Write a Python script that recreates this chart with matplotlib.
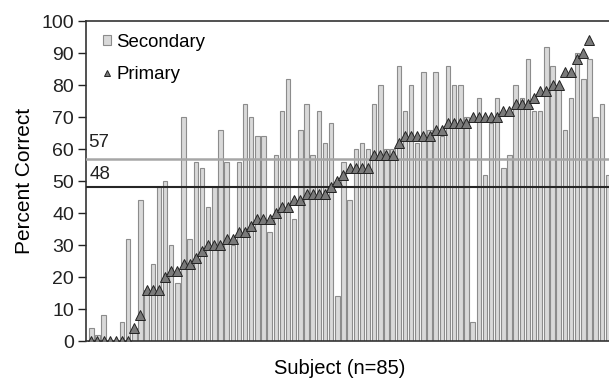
import numpy as np
import matplotlib
matplotlib.use("Agg")
import matplotlib.pyplot as plt
from matplotlib.patches import Rectangle
from matplotlib.lines import Line2D

plt.rcParams['font.family'] = ['Liberation Sans', 'DejaVu Sans']

# percent correct per subject, sorted by primary score
SECONDARY = [4, 2, 8, 0, 0, 6, 32, 4, 44, 16, 24, 48, 50, 30, 18, 70, 32, 56, 54, 42,
             48, 66, 56, 30, 56, 74, 70, 64, 64, 34, 58, 72, 82, 38, 66, 74, 58, 72, 62, 68,
             14, 56, 44, 60, 62, 60, 74, 80, 60, 60, 86, 72, 80, 62, 84, 66, 84, 64, 86, 80,
             80, 70, 6, 76, 52, 68, 76, 54, 58, 80, 76, 88, 72, 72, 92, 86, 80, 66, 76, 90,
             82, 88, 70, 74, 52]
PRIMARY = [0, 0, 0, 0, 0, 0, 0, 4, 8, 16, 16, 16, 20, 22, 22, 24, 24, 26, 28, 30,
           30, 30, 32, 32, 34, 34, 36, 38, 38, 38, 40, 42, 42, 44, 44, 46, 46, 46, 46, 48,
           50, 52, 54, 54, 54, 54, 58, 58, 58, 58, 62, 64, 64, 64, 64, 64, 66, 66, 68, 68,
           68, 68, 70, 70, 70, 70, 70, 72, 72, 74, 74, 74, 76, 78, 78, 80, 80, 84, 84, 88,
           90, 94, np.nan, np.nan, np.nan]
SEC_MEAN = 57
PRI_MEAN = 48

subjects = np.arange(1, len(SECONDARY) + 1)

fig = plt.figure(figsize=(6.09, 3.8), dpi=100)
ax = fig.add_axes([86 / 609, 39 / 380, 523 / 609, 320 / 380])

bar_fc = '#d9d9d9'
bar_ec = '#8c8c8c'
tri_fc = '#7a7a7a'

ax.bar(subjects, SECONDARY, width=0.72, color=bar_fc, edgecolor=bar_ec, linewidth=0.8, zorder=2)
ax.axhline(SEC_MEAN, color='#a6a6a6', linewidth=1.8, zorder=3)
ax.axhline(PRI_MEAN, color='#262626', linewidth=1.5, zorder=3)
ax.plot(subjects, PRIMARY, linestyle='none', marker='^', markersize=6.5,
        markerfacecolor=tri_fc, markeredgecolor='#222222', markeredgewidth=0.7, zorder=4)

ax.text(0.55, SEC_MEAN + 3.6, str(SEC_MEAN), fontsize=13.5, color='#222222', va='baseline', ha='left')
ax.text(0.7, PRI_MEAN + 2.6, str(PRI_MEAN), fontsize=13.5, color='#222222', va='baseline', ha='left')

ax.set_xlim(0.14, 85.18)
ax.set_ylim(0, 100)
ax.set_yticks(np.arange(0, 101, 10))
ax.set_xticks([])
ax.tick_params(axis='y', labelsize=14, length=5.5, width=1, direction='out', pad=3, colors='#222222')

for side in ['left', 'bottom', 'top']:
    ax.spines[side].set_color('#333333')
    ax.spines[side].set_linewidth(1.2)
ax.spines['right'].set_visible(False)

ax.set_ylabel('Percent Correct', fontsize=15)
ax.yaxis.set_label_coords(-0.1, 0.5)
ax.set_xlabel('Subject (n=85)', fontsize=14.5)
ax.xaxis.set_label_coords(0.486, -0.056)

handles = [Rectangle((0, 0), 1, 1, facecolor=bar_fc, edgecolor=bar_ec, linewidth=0.8),
           Line2D([], [], linestyle='none', marker='^', markersize=4.5,
                  markerfacecolor=tri_fc, markeredgecolor='#222222', markeredgewidth=0.7)]
ax.legend(handles, ['Secondary', 'Primary'], loc='upper left', frameon=False, fontsize=13.4,
          handlelength=0.43, handleheight=0.43, handletextpad=0.3, labelspacing=0.8,
          borderaxespad=0.5, bbox_to_anchor=(0.0, 1.0125))

fig.savefig('out.png', dpi=100)
